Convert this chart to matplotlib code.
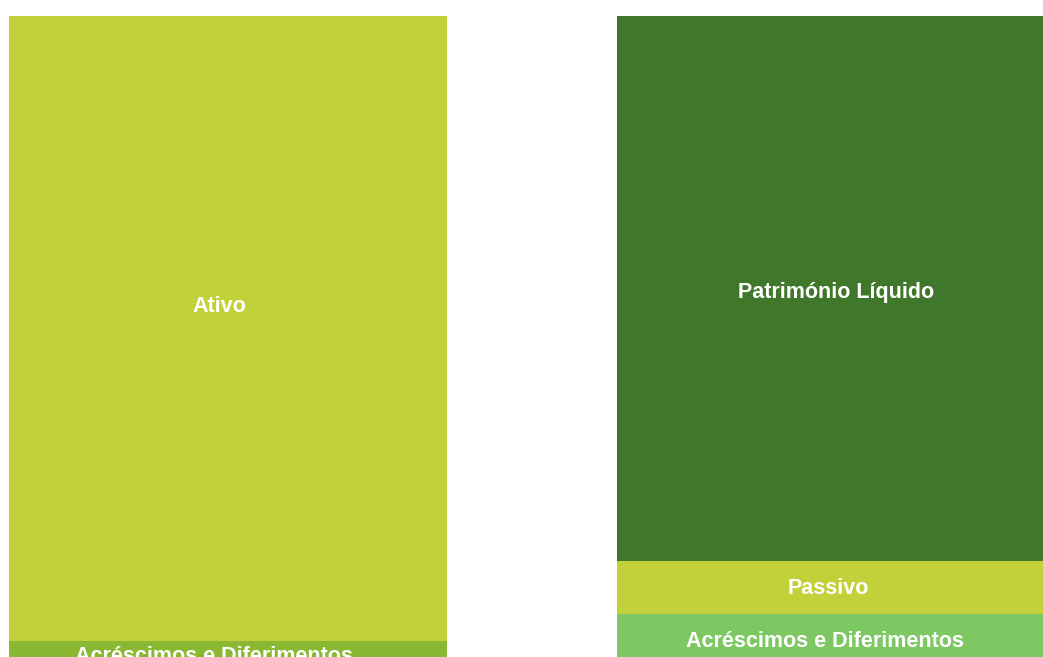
import numpy as np
import matplotlib.pyplot as plt

# Data (balance sheet structure, stacked from the top)
columns = ['Ativo', 'Passivo + PL']
left_labels = ['Ativo', 'Acréscimos e Diferimentos']
left_values = [625, 32]
right_labels = ['Património Líquido', 'Passivo', 'Acréscimos e Diferimentos']
right_values = [545, 53, 59]

left_colors = ['#c2d13a', '#8ab833']
right_colors = ['#40782b', '#c2d13a', '#7ec864']

fig = plt.figure(figsize=(10.43, 6.57), dpi=100)
ax = fig.add_axes([0, 0, 1, 1])

width = 0.72
# label nudges in pixels (dx, dy up), the labels are not exactly centred in the original
left_nudge = [(-9, 22), (-14, 1)]
right_nudge = [(0, -4), (-8, -1), (-11, 2)]


def stack(x, values, labels, colors, nudges):
    bottom = 0
    for v, lab, c, (dx, dy) in zip(values, labels, colors, nudges):
        ax.bar(x, v, bottom=bottom, width=width, color=c, edgecolor='none')
        ax.annotate(lab, (x, bottom + v / 2), xytext=(dx * 0.72, dy * 0.72),
                    textcoords='offset points', ha='center', va='center',
                    color='white', fontsize=15.5, fontweight='bold',
                    family='Liberation Sans', annotation_clip=False)
        bottom += v


stack(0, left_values, left_labels, left_colors, left_nudge)
stack(1, right_values, right_labels, right_colors, right_nudge)

ax.set_xlim(-0.375, 1.340)
ax.set_ylim(641, -16)
ax.axis('off')

fig.savefig('out.png', dpi=100)
